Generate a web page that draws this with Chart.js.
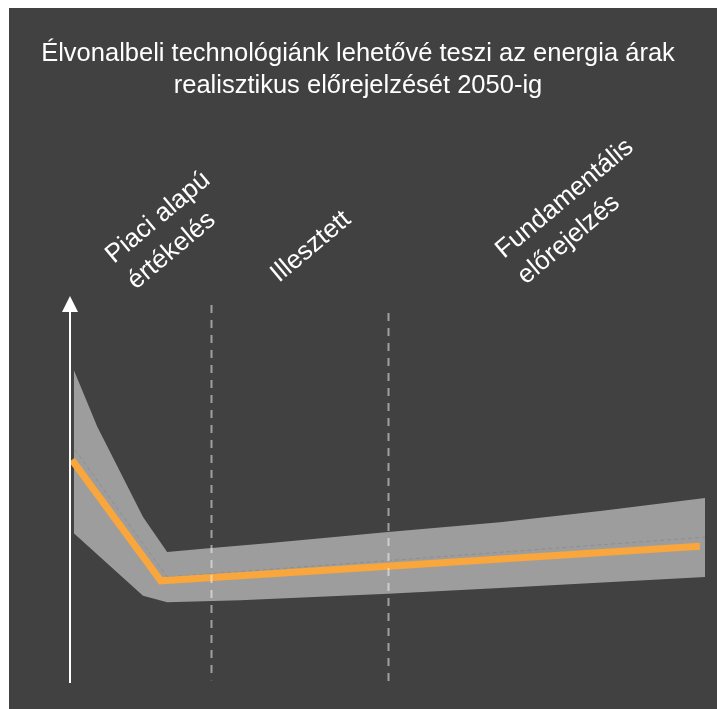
<!DOCTYPE html>
<html>
<head>
<meta charset="utf-8">
<script src="https://cdn.jsdelivr.net/npm/chart.js@4"></script>
<style>
  body { margin: 0; background: #fff; }
  #wrap { width: 717px; height: 709px; }
</style>
</head>
<body>
<div id="wrap"><canvas id="chart" width="717" height="709"></canvas></div>
<script>
// Data (x: 0 = axis, 100 = right end of band; y: 0..100 relative level)
const upperX = [0.6, 4.3, 11.5, 15.3, 20.5, 31.5, 50.1, 67.7, 83.5, 100];
const upperY = [81.2, 66.8, 43.9, 35.0, 35.8, 37.3, 40.1, 42.6, 45.4, 48.7];
const lowerX = [0.6, 11.5, 15.3, 26.8, 50.1, 67.7, 100];
const lowerY = [39.8, 23.9, 22.3, 22.8, 24.4, 25.9, 28.7];
const innerX = [0.8, 15.3, 100];
const innerY = [60.9, 28.7, 38.8];
const forecastX = [0.3, 14.3, 99.2];
const forecastY = [58.4, 27.7, 36.5];

// Phase separators and axis arrow (in data units)
const dividerX = [22.2, 50.1];
const dividerTop = [97.7, 95.7];
const dividerBottom = [2.5, 0.8];
const axisBottom = 1.8;
const axisTop = 100;

const titleLines = ['Élvonalbeli technológiánk lehetővé teszi az energia árak', 'realisztikus előrejelzését 2050-ig'];
const phaseLabels = [
  { lines: ['Piaci alapú', 'értékelés'], x: 114, y: 264 },
  { lines: ['Illesztett'], x: 279, y: 283 },
  { lines: ['Fundamentális', 'előrejelzés'], x: 504, y: 259 }
];

const BG = '#414141';
const BAND = '#9d9d9d';
const ORANGE = '#f9a63c';

const pts = (xs, ys) => xs.map((x, i) => ({ x, y: ys[i] }));

const decor = {
  id: 'decor',
  beforeDraw(chart) {
    const c = chart.ctx;
    c.save();
    c.fillStyle = '#fff';
    c.fillRect(0, 0, chart.width, chart.height);
    c.fillStyle = BG;
    c.fillRect(9, 8, chart.width - 9, chart.height - 8);

    // title
    c.fillStyle = '#fff';
    c.font = '25.5px "Liberation Sans", Arial, sans-serif';
    c.textAlign = 'center';
    c.textBaseline = 'alphabetic';
    titleLines.forEach((t, i) => c.fillText(t, 358, 61 + i * 32));

    // rotated phase labels
    c.font = '26px "Liberation Sans", Arial, sans-serif';
    c.textAlign = 'left';
    phaseLabels.forEach(l => {
      c.save();
      c.translate(l.x, l.y);
      c.rotate(-40 * Math.PI / 180);
      l.lines.forEach((t, i) => c.fillText(t, 0, i * 34));
      c.restore();
    });
    c.restore();
  },
  afterDatasetsDraw(chart) {
    const c = chart.ctx;
    const xs = chart.scales.x, ys = chart.scales.y;
    c.save();
    // dashed separators
    c.strokeStyle = 'rgba(255,255,255,0.5)';
    c.lineWidth = 2;
    c.setLineDash([8, 7]);
    dividerX.forEach((v, i) => {
      const px = Math.round(xs.getPixelForValue(v)) + 0.5;
      c.beginPath();
      c.moveTo(px, ys.getPixelForValue(dividerTop[i]));
      c.lineTo(px, ys.getPixelForValue(dividerBottom[i]));
      c.stroke();
    });
    // axis arrow
    c.setLineDash([]);
    c.strokeStyle = '#fff';
    c.fillStyle = '#fff';
    const ax = xs.getPixelForValue(0);
    const top = ys.getPixelForValue(axisTop);
    c.beginPath();
    c.moveTo(ax, ys.getPixelForValue(axisBottom));
    c.lineTo(ax, top + 12);
    c.stroke();
    c.beginPath();
    c.moveTo(ax, top);
    c.lineTo(ax - 8, top + 16);
    c.lineTo(ax + 8, top + 16);
    c.closePath();
    c.fill();
    c.restore();
  }
};

new Chart(document.getElementById('chart'), {
  type: 'scatter',
  data: {
    datasets: [
      { data: pts(forecastX, forecastY), showLine: true, borderColor: ORANGE, borderWidth: 7, pointRadius: 0, tension: 0, order: 0 },
      { data: pts(innerX, innerY), showLine: true, borderColor: '#8e8e8e', borderWidth: 1, borderDash: [4, 3], pointRadius: 0, order: 1 },
      { data: pts(upperX, upperY), showLine: true, borderWidth: 0, borderColor: BAND, backgroundColor: BAND, fill: '+1', pointRadius: 0, order: 2 },
      { data: pts(lowerX, lowerY), showLine: true, borderWidth: 0, borderColor: BAND, pointRadius: 0, fill: false, order: 3 }
    ]
  },
  options: {
    responsive: false,
    animation: false,
    layout: { padding: { left: 70, right: 12, top: 296, bottom: 19 } },
    plugins: { legend: { display: false }, tooltip: { enabled: false } },
    scales: {
      x: { type: 'linear', min: 0, max: 100, display: false },
      y: { min: 0, max: 100, display: false }
    }
  },
  plugins: [decor]
});
</script>
</body>
</html>
